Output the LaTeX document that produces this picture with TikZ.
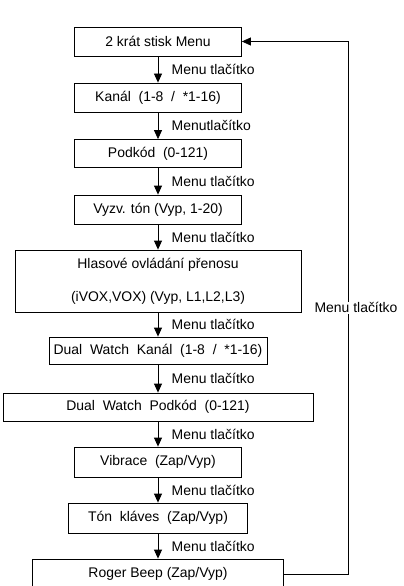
\documentclass[tikz,border=0pt]{standalone}
\usepackage{fontspec}
\setmainfont{Liberation Sans}
\usetikzlibrary{arrows.meta}

\begin{document}
\begin{tikzpicture}[x=1bp,y=-1bp,
    box/.style={draw,line width=0.8bp,minimum height=29bp,inner sep=0pt,
      align=center,font=\fontsize{14}{16}\selectfont},
    flow/.style={line width=0.8bp,-{Triangle[length=9bp,width=8bp]}},
    lbl/.style={right,xshift=10bp,font=\fontsize{14}{16}\selectfont}]
  \useasboundingbox (0,0) rectangle (403,586);
  \def\X{158}
  \node[box,minimum width=167bp] (menu) at (\X,41.5) {2 krát stisk Menu};
  \node[box,minimum width=167bp] (kanal) at (\X,97.5) {Kanál~~(1-8~~/~~*1-16)};
  \node[box,minimum width=167bp,minimum height=28bp] (podkod) at (\X,153.5) {Podkód~~(0-121)};
  \node[box,minimum width=167bp] (vyzv) at (\X,209.5) {Vyzv. tón (Vyp, 1-20)};
  \node[box,minimum width=286bp,minimum height=62bp] (hlas) at (\X,281)
    {Hlasové ovládání přenosu\\[17bp](iVOX,VOX) (Vyp, L1,L2,L3)};
  \node[box,minimum width=218bp,minimum height=27bp] (dwkanal) at (\X,350.5) {Dual~~Watch~~Kanál~~(1-8~~/~~*1-16)};
  \node[box,minimum width=310bp,minimum height=28bp] (dwpodkod) at (\X,407) {Dual~~Watch~~Podkód~~(0-121)};
  \node[box,minimum width=167bp,minimum height=30bp] (vibrace) at (\X,462) {Vibrace~~(Zap/Vyp)};
  \node[box,minimum width=179bp,minimum height=30bp] (klaves) at (\X,518) {Tón~~kláves~~(Zap/Vyp)};
  \node[box,minimum width=251bp,minimum height=30bp] (roger) at (\X,574) {Roger Beep (Zap/Vyp)};

  \draw[flow] (menu) -- (kanal) node[lbl,midway] {Menu tlačítko};
  \draw[flow] (kanal) -- (podkod) node[lbl,midway] {Menutlačítko};
  \draw[flow] (podkod) -- (vyzv) node[lbl,midway] {Menu tlačítko};
  \draw[flow] (vyzv) -- (hlas) node[lbl,midway] {Menu tlačítko};
  \draw[flow] (hlas) -- (dwkanal) node[lbl,midway] {Menu tlačítko};
  \draw[flow] (dwkanal) -- (dwpodkod) node[lbl,midway] {Menu tlačítko};
  \draw[flow] (dwpodkod) -- (vibrace) node[lbl,midway] {Menu tlačítko};
  \draw[flow] (vibrace) -- (klaves) node[lbl,midway] {Menu tlačítko};
  \draw[flow] (klaves) -- (roger) node[lbl,midway] {Menu tlačítko};

  % back to the start
  \coordinate (turn) at (348,0);
  \draw[flow] (roger.east) -- (roger.east -| turn) -- (menu.east -| turn)
    node[midway,fill=white,inner sep=1bp,xshift=8bp,font=\fontsize{14}{16}\selectfont] {Menu tlačítko}
    -- (menu.east);
\end{tikzpicture}
\end{document}
